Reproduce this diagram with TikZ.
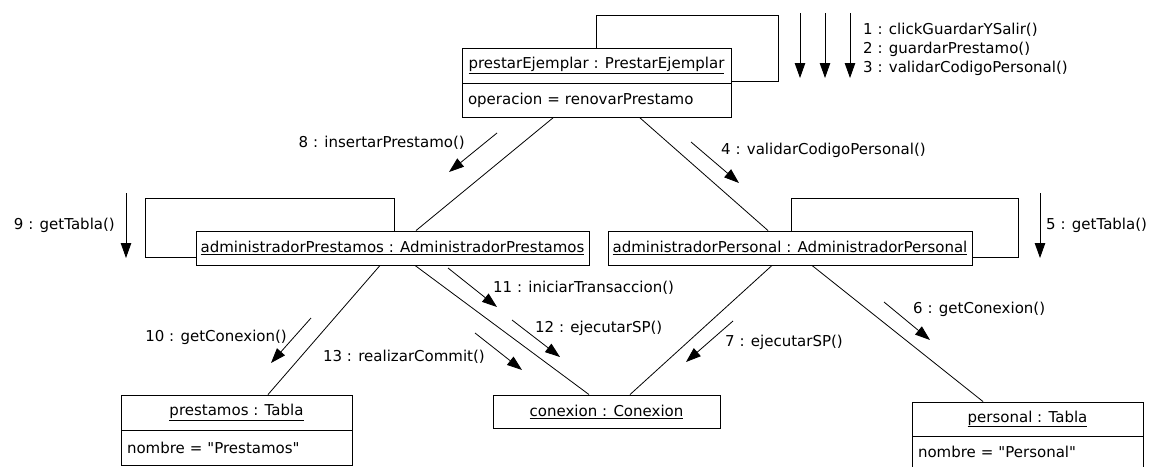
\documentclass[tikz,border=0pt]{standalone}
\usepackage{fontspec}
\setmainfont{DejaVu Sans}
\usetikzlibrary{arrows.meta}

\begin{document}
\begin{tikzpicture}[x=1pt, y=-1pt,
    objname/.style={rectangle, draw=black, line width=0.9pt, inner sep=0pt,
      align=center, font=\fontsize{15}{17}\selectfont},
    objattr/.style={rectangle, draw=black, line width=0.9pt, inner xsep=6pt,
      inner ysep=0pt, align=left, font=\fontsize{15}{17}\selectfont},
    link/.style={-, line width=0.8pt},
    msg/.style={-{Triangle[length=15pt,width=10.5pt]}, line width=0.8pt},
    lbl/.style={inner sep=0pt, font=\fontsize{15}{17}\selectfont}
  ]
    \useasboundingbox (0,0) rectangle (1155,466);

    % Objetos
    \node[objname, minimum width=269pt, minimum height=35pt] (prestar) at (596.5,65.5)
      {\underline{prestarEjemplar : PrestarEjemplar}};
    \node[objattr, text width=257pt, minimum height=34pt] (prestarAtr) at (596.5,100)
      {operacion = renovarPrestamo};
    \node[objname, minimum width=393pt, minimum height=34pt] (admPres) at (392.5,248)
      {\underline{administradorPrestamos : AdministradorPrestamos}};
    \node[objname, minimum width=364pt, minimum height=34pt] (admPers) at (790,248)
      {\underline{administradorPersonal : AdministradorPersonal}};
    \node[objname, minimum width=231pt, minimum height=35pt] (prestamos) at (236.5,412.5)
      {\underline{prestamos : Tabla}};
    \node[objattr, text width=219pt, minimum height=35pt] (prestamosAtr) at (236.5,447.5)
      {nombre = \textquotedbl Prestamos\textquotedbl};
    \node[objname, minimum width=227pt, minimum height=33pt] (conexion) at (606.5,411.5)
      {\underline{conexion : Conexion}};
    \node[objname, minimum width=231pt, minimum height=34pt] (personal) at (1027.5,419)
      {\underline{personal : Tabla}};
    \node[objattr, text width=219pt, minimum height=31pt] (personalAtr) at (1027.5,451.5)
      {nombre = \textquotedbl Personal\textquotedbl};

    % Enlaces
    \draw[link] ([xshift=-43pt]prestarAtr.south) -- ([xshift=23.5pt]admPres.north);
    \draw[link] ([xshift=43pt]prestarAtr.south) -- ([xshift=-22pt]admPers.north);
    \draw[link] ([xshift=-12.5pt]admPres.south) -- ([xshift=31.5pt]prestamos.north);
    \draw[link] ([xshift=22.5pt]admPres.south) -- ([xshift=-17.5pt]conexion.north);
    \draw[link] ([xshift=-18pt]admPers.south) -- ([xshift=23.5pt]conexion.north);
    \draw[link] ([xshift=22pt]admPers.south) -- ([xshift=-44.5pt]personal.north);
    \draw[link] (prestar.north) -- ++(0,-32) -- ++(181.5,0)
      |- ([yshift=2pt]prestar.south east);
    \draw[link] ([xshift=1.5pt]admPres.north) -- ++(0,-32) -- ++(-249,0)
      |- ([yshift=-9pt]admPres.west);
    \draw[link] ([xshift=1pt]admPers.north) -- ++(0,-32) -- ++(227,0)
      |- ([yshift=-9pt]admPers.east);

    % Mensajes
    \foreach \x in {800,825,850}
      \draw[msg] (\x,13) -- (\x,78);
    \node[lbl, anchor=west] (m1) at (863,30) {1 : clickGuardarYSalir()};
    \node[lbl, anchor=west] (m2) at (863,49) {2 : guardarPrestamo()};
    \node[lbl, anchor=west] (m3) at (863,68) {3 : validarCodigoPersonal()};

    \draw[msg] (691,142) -- (739,183);
    \node[lbl, anchor=west] (m4) at (721,150) {4 : validarCodigoPersonal()};
    \draw[msg] (1040,193) -- (1040,258);
    \node[lbl, anchor=west] (m5) at (1046,225) {5 : getTabla()};
    \draw[msg] (884,302) -- (930,340);
    \node[lbl, anchor=west] (m6) at (913,309) {6 : getConexion()};
    \draw[msg] (733,321) -- (686,362);
    \node[lbl, anchor=west] (m7) at (725,342) {7 : ejecutarSP()};
    \draw[msg] (497,133) -- (449,172);
    \node[lbl, anchor=east] (m8) at (465,143) {8 : insertarPrestamo()};
    \draw[msg] (126,193) -- (126,258);
    \node[lbl, anchor=east] (m9) at (115,225) {9 : getTabla()};
    \draw[msg] (311,318) -- (271,363);
    \node[lbl, anchor=east] (m10) at (287,337) {10 : getConexion()};
    \draw[msg] (448,268) -- (497,307);
    \node[lbl, anchor=west] (m11) at (493,288) {11 : iniciarTransaccion()};
    \draw[msg] (512,320) -- (560,357);
    \node[lbl, anchor=west] (m12) at (535,328) {12 : ejecutarSP()};
    \draw[msg] (475,333) -- (522,370);
    \node[lbl, anchor=east] (m13) at (485,357) {13 : realizarCommit()};
  \end{tikzpicture}
\end{document}
